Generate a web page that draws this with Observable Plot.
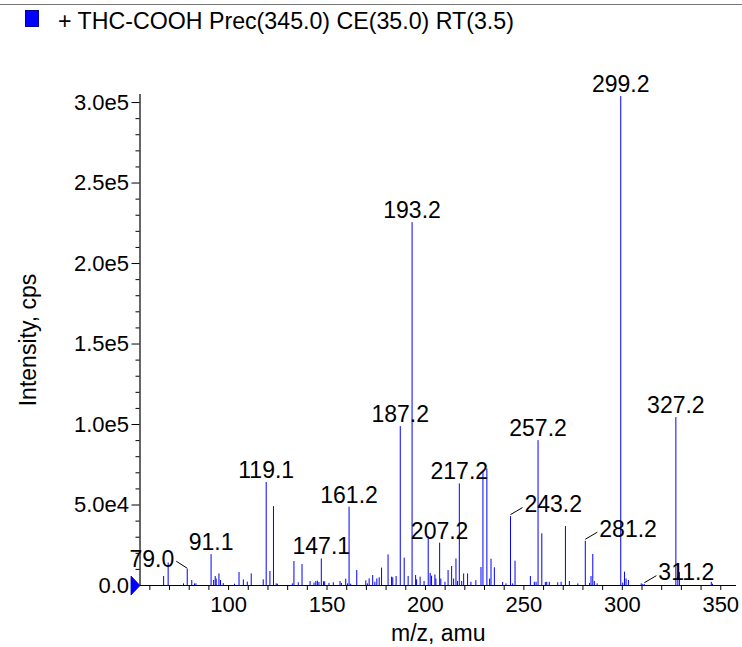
<!DOCTYPE html>
<html>
<head>
<meta charset="utf-8">
<script src="https://cdn.jsdelivr.net/npm/d3@7"></script>
<script src="https://cdn.jsdelivr.net/npm/@observablehq/plot@0.6"></script>
<style>
  html, body { margin: 0; padding: 0; background: #fff; }
  body { width: 742px; height: 647px; overflow: hidden; font-family: "Liberation Sans", Arial, Helvetica, sans-serif; }
  #top { position: relative; height: 50px; }
  #top .rule { position: absolute; left: 0; right: 0; top: 4px; height: 0; border-top: 1.5px solid #777; }
  #top .swatch { position: absolute; left: 25px; top: 10px; width: 14px; height: 17px; background: #0000ff; box-sizing: border-box; border: 1px solid #0000a0; }
  #top .title { position: absolute; left: 58px; top: 8px; font-size: 23.2px; line-height: 27px; color: #000; white-space: nowrap; }
  #chart svg { display: block; }
</style>
</head>
<body>
<div id="top"><div class="rule"></div><div class="swatch"></div><div class="title" id="legendText"></div></div>
<div id="chart"></div>
<script>
// ---- data ----
const legendLabel = "+ THC-COOH Prec(345.0) CE(35.0) RT(3.5)";
const xTitle = "m/z, amu";
const yTitle = "Intensity, cps";

const mz = [
  67.0, 69.3, 77.1, 79.0, 81.3, 82.7, 83.4, 91.1, 92.4, 93.2, 93.7, 95.1, 95.9, 97.3,
  103.0, 105.3, 107.5, 109.5, 111.5, 117.6, 119.1, 121.0, 122.8, 124.2, 124.8,
  132.4, 133.2, 135.4, 137.3, 141.4, 143.4, 144.3, 145.1, 145.9, 147.1, 148.2, 148.8,
  151.0, 153.2, 156.6, 157.3, 159.5, 160.4, 161.2, 162.0, 165.1, 169.7, 170.5, 171.4,
  173.2, 174.3, 175.3, 176.5, 177.7, 181.0, 182.8, 183.4, 185.1, 187.2, 189.2, 191.2,
  193.2, 195.0, 195.5, 197.3, 199.3, 201.4, 202.4, 203.1, 204.8, 205.3, 207.2, 207.8,
  209.9, 211.5, 213.3, 214.3, 215.5, 216.3, 217.2, 218.4, 219.4, 221.4, 223.1, 225.6,
  228.2, 229.2, 231.2, 232.6, 233.3, 235.0, 239.2, 240.9, 243.2, 244.3, 245.5,
  253.3, 255.3, 256.2, 257.2, 259.1, 260.9, 261.6, 262.9, 267.2, 268.9, 271.1, 273.1,
  277.4, 281.2, 283.4, 284.1, 285.0, 285.8, 287.2, 299.2, 300.2, 301.1, 301.9, 303.1,
  309.6, 310.4, 311.2, 327.2, 328.2, 329.0, 345.2, 345.8
];
const intensity = [
  5600, 14000, 1000, 10100, 3100, 1000, 1000, 19200, 3100, 5600, 4000, 7200, 3100, 1200,
  800, 8100, 3500, 2100, 7200, 3500, 64000, 8700, 49000, 1000, 800,
  1000, 14900, 1700, 13000, 2500, 1500, 2500, 2700, 1900, 16500, 2300, 2300,
  1300, 1700, 2500, 1300, 3900, 1000, 48600, 800, 9300, 2900, 1000, 4100,
  6200, 2000, 4100, 4800, 10800, 19000, 5200, 4800, 5600, 98700, 17000, 5600,
  225400, 6200, 3500, 5200, 2500, 30400, 7500, 5800, 6600, 4000, 26300, 4000,
  2000, 9300, 11800, 4000, 16500, 2500, 63100, 2500, 7200, 7200, 2000, 3000,
  11200, 71000, 72400, 4000, 16300, 11000, 1900, 1000, 42800, 1000, 15100,
  5600, 2000, 2000, 90000, 32100, 1900, 2000, 2000, 1700, 2000, 36600, 2500,
  1000, 27500, 1300, 5600, 19300, 2500, 1000, 303700, 1500, 8300, 4100, 3100,
  1000, 700, 500, 104300, 5200, 8000, 2000, 800
];

const peakLabels = ["79.0", "91.1", "119.1", "147.1", "161.2", "187.2", "193.2", "207.2",
  "217.2", "243.2", "257.2", "281.2", "299.2", "311.2", "327.2"];
const leaderLabels = ["79.0", "243.2", "281.2", "311.2"];

const xDomain = [55, 358];
const yDomain = [0, 305000];
const xTicks = [100, 150, 200, 250, 300, 350];
const xTickLabels = ["100", "150", "200", "250", "300", "350"];
const xMinorTicks = [60, 70, 80, 90, 110, 120, 130, 140, 160, 170, 180, 190, 210, 220, 230, 240,
  260, 270, 280, 290, 310, 320, 330, 340];
const yTicks = [0, 50000, 100000, 150000, 200000, 250000, 300000];
const yTickLabels = ["0.0", "5.0e4", "1.0e5", "1.5e5", "2.0e5", "2.5e5", "3.0e5"];
const yMinorTicks = [10000, 20000, 30000, 40000, 60000, 70000, 80000, 90000, 110000, 120000, 130000,
  140000, 160000, 170000, 180000, 190000, 210000, 220000, 230000, 240000, 260000, 270000, 280000, 290000];

// ---- build tables ----
document.getElementById("legendText").textContent = legendLabel;

const peaks = mz.map((m, k) => ({mz: m, i: intensity[k]}));
const labels = peakLabels.map(t => {
  const m = +t;
  const p = peaks.reduce((a, b) => Math.abs(b.mz - m) < Math.abs(a.mz - m) ? b : a);
  return {mz: p.mz, i: p.i, text: t, leader: leaderLabels.includes(t), left: m < 100};
});
const direct = labels.filter(d => !d.leader);
const leadRight = labels.filter(d => d.leader && !d.left);
const leadLeft = labels.filter(d => d.leader && d.left);

const leaderR = {draw(ctx) { ctx.moveTo(0, -2); ctx.lineTo(12, -9); }};
const leaderL = {draw(ctx) { ctx.moveTo(0, -1); ctx.lineTo(-11, -8); }};
const arrowHead = {draw(ctx) { ctx.moveTo(-9, -9.5); ctx.lineTo(0, 0); ctx.lineTo(-9, 9.5); ctx.closePath(); }};

const ink = "#000";
const blue = "#0000ff";
const tickFont = 22;
const textFont = 23;

const chart = Plot.plot({
  width: 742,
  height: 597,
  marginLeft: 139.5,
  marginRight: 6,
  marginTop: 44,
  marginBottom: 62,
  style: {fontFamily: "'Liberation Sans', Arial, Helvetica, sans-serif", fontSize: tickFont + "px", color: ink, background: "#fff", overflow: "visible"},
  x: {domain: xDomain},
  y: {domain: yDomain},
  marks: [
    Plot.ruleX(peaks, {x: "mz", y1: 0, y2: "i", stroke: blue, strokeWidth: 1}),
    // axes
    Plot.axisY({ticks: yMinorTicks, tickSize: 4, tickFormat: () => "", label: null, stroke: ink}),
    Plot.axisY({ticks: yTicks, tickSize: 8, tickPadding: 3, tickFormat: d => yTickLabels[yTicks.indexOf(d)], label: null, stroke: ink, fontSize: tickFont}),
    Plot.axisX({ticks: xMinorTicks, tickSize: 5, tickFormat: () => "", label: null, stroke: ink}),
    Plot.axisX({ticks: xTicks, tickSize: 5, tickPadding: 6, tickFormat: d => xTickLabels[xTicks.indexOf(d)], label: null, stroke: ink, fontSize: tickFont}),
    Plot.ruleX([xDomain[0]], {stroke: ink, strokeWidth: 1.2}),
    Plot.ruleY([0], {stroke: ink, strokeWidth: 1.2}),
    Plot.dot([{x: xDomain[0], y: 0}], {x: "x", y: "y", symbol: arrowHead, fill: blue, stroke: "#0000c0", strokeWidth: 0.8}),
    // titles
    Plot.text([yTitle], {frameAnchor: "left", text: d => d, rotate: -90, dx: -111, textAnchor: "middle", lineAnchor: "middle", fontSize: textFont, fill: ink}),
    Plot.text([xTitle], {frameAnchor: "bottom", text: d => d, dy: 48, textAnchor: "middle", lineAnchor: "middle", fontSize: textFont, fill: ink}),
    // peak labels
    Plot.text(direct, {x: "mz", y: "i", text: "text", dy: -12, lineAnchor: "middle", fontSize: textFont, fill: ink}),
    Plot.dot(leadRight, {x: "mz", y: "i", symbol: leaderR, fill: "none", stroke: ink, strokeWidth: 1}),
    Plot.dot(leadLeft, {x: "mz", y: "i", symbol: leaderL, fill: "none", stroke: ink, strokeWidth: 1}),
    Plot.text(leadRight, {x: "mz", y: "i", text: "text", dx: 14, dy: -12, textAnchor: "start", lineAnchor: "middle", fontSize: textFont, fill: ink}),
    Plot.text(leadLeft, {x: "mz", y: "i", text: "text", dx: -13, dy: -10, textAnchor: "end", lineAnchor: "middle", fontSize: textFont, fill: ink})
  ]
});
document.getElementById("chart").appendChild(chart);
</script>
</body>
</html>
